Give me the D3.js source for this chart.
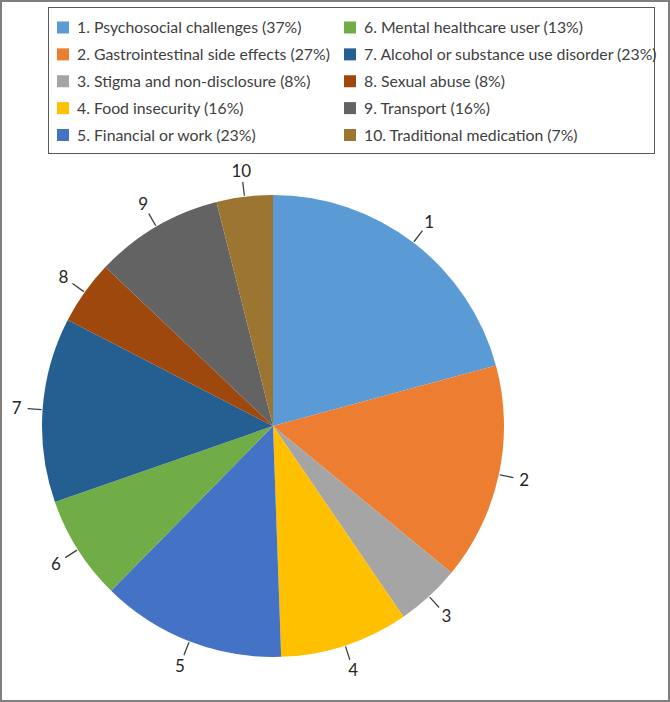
<!DOCTYPE html>
<html><head><meta charset="utf-8">
<script src="https://cdn.jsdelivr.net/npm/d3@7"></script>
<style>body{margin:0;background:#fff}svg{display:block}</style>
</head><body>
<script>
const labels = ["1","2","3","4","5","6","7","8","9","10"];
const names = ["1. Psychosocial challenges (37%)","2. Gastrointestinal side effects (27%)","3. Stigma and non-disclosure (8%)","4. Food insecurity (16%)","5. Financial or work (23%)","6. Mental healthcare user (13%)","7. Alcohol or substance use disorder (23%)","8. Sexual abuse (8%)","9. Transport (16%)","10. Traditional medication (7%)"];
const values = [37,27,8,16,23,13,23,8,16,7];
const colors = ["#5B9BD5","#ED7D31","#A5A5A5","#FFC000","#4472C4","#70AD47","#255E91","#9E480E","#636363","#9C7631"];

const W=670,H=702;
const svg=d3.select("body").append("svg").attr("width",W).attr("height",H);
svg.append("rect").attr("x",1).attr("y",1).attr("width",W-2).attr("height",H-2).attr("fill","#fff").attr("stroke","#7f7f7f").attr("stroke-width",2);

const font="Lato, 'Open Sans', sans-serif";
// legend
const lg=svg.append("g");
lg.append("rect").attr("x",48.5).attr("y",7.5).attr("width",606).attr("height",146).attr("fill","#fff").attr("stroke","#595959").attr("stroke-width",1);
const colX=d3.scalePoint().domain([0,1]).range([57,344]);
const rowY=d3.scalePoint().domain([0,1,2,3,4]).range([27.5,135]);
names.forEach((n,i)=>{
  const c=Math.floor(i/5), r=i%5;
  const g=lg.append("g").attr("transform",`translate(${colX(c)},${rowY(r)})`);
  g.append("rect").attr("x",0).attr("y",-6).attr("width",12).attr("height",12).attr("fill",colors[i]);
  g.append("text").attr("x",20).attr("y",0).attr("dy","0.36em").attr("font-family",font).attr("font-size",15.8).attr("fill","#404040").text(n);
});

// pie
const cx=273, cy=426, R=231;
const pie=d3.pie().sort(null).value(d=>d)(values);
const arc=d3.arc().innerRadius(0).outerRadius(R);
const pg=svg.append("g").attr("transform",`translate(${cx},${cy})`);
pg.selectAll("path").data(pie).join("path").attr("d",arc).attr("fill",(d,i)=>colors[i]);
const pt=(a,r)=>[r*Math.sin(a),-r*Math.cos(a)];
pie.forEach((d,i)=>{
  const a=(d.startAngle+d.endAngle)/2;
  const p1=pt(a,R+1), p2=pt(a,R+15), p3=pt(a,R+26);
  pg.append("line").attr("x1",p1[0]).attr("y1",p1[1]).attr("x2",p2[0]).attr("y2",p2[1]).attr("stroke","#404040").attr("stroke-width",1.3);
  pg.append("text").attr("x",p3[0]).attr("y",p3[1]).attr("text-anchor","middle").attr("dy","0.36em").attr("font-family",font).attr("font-size",17).attr("fill","#262626").text(labels[i]);
});
</script>
</body></html>
